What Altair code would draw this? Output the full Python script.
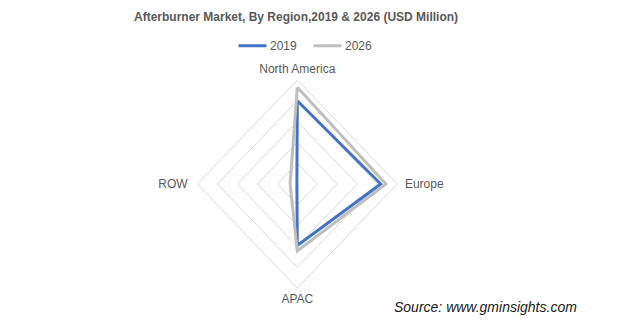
import altair as alt
import pandas as pd

# ---- data ----
regions = ["North America", "Europe", "APAC", "ROW"]
angles = [0, 90, 180, 270]
years = ["2019", "2026"]
values_2019 = [400, 417, 296, 2]
values_2026 = [465, 443, 322, 36]
grid_levels = [100, 200, 300, 400, 500]
title_text = "Afterburner Market, By Region,2019 & 2026 (USD Million)"
source_text = "Source: www.gminsights.com"

n = len(regions)
rows = []
for yr, vals in zip(years, [values_2019, values_2026]):
    for i in range(n + 1):
        j = i % n
        rows.append({"year": yr, "region": regions[j], "angle": angles[j],
                     "value": vals[j], "order": i})
series = pd.DataFrame(rows)

grid_rows = []
for lv in grid_levels:
    for i in range(n + 1):
        j = i % n
        grid_rows.append({"level": lv, "angle": angles[j], "order": i, "value": lv})
grid = pd.DataFrame(grid_rows)

labels = pd.DataFrame({"region": regions, "angle": angles})

# ---- scales ----
xs = alt.Scale(domain=[-1486.5, 1633.5], nice=False, zero=False)
ys = alt.Scale(domain=[-682.7, 596.2], nice=False, zero=False)

def polar(chart, rexpr="datum.value"):
    return chart.transform_calculate(
        px=f"({rexpr}) * sin(datum.angle * PI / 180)",
        py=f"({rexpr}) * cos(datum.angle * PI / 180)",
    )

X = alt.X("px:Q", scale=xs, axis=None)
Y = alt.Y("py:Q", scale=ys, axis=None)

grid_layer = polar(alt.Chart(grid)).mark_line(
    color="#D9D9D9", strokeWidth=1, strokeJoin="miter"
).encode(x=X, y=Y, detail="level:N", order="order:Q")

line_layer = polar(alt.Chart(series)).mark_line(
    strokeWidth=3, strokeJoin="miter"
).encode(
    x=X, y=Y,
    color=alt.Color(
        "year:N",
        scale=alt.Scale(domain=years, range=["#4472C4", "#BFBFBF"]),
        legend=alt.Legend(
            title=None, orient="none", legendX=237, legendY=-30,
            direction="horizontal", symbolType="stroke", symbolSize=784,
            symbolStrokeWidth=3, labelFontSize=12, labelColor="#595959",
            labelFont="Liberation Sans", labelOffset=2, columnPadding=10,
            padding=0,
        ),
    ),
    order="order:Q",
)

lab_style = dict(fontSize=12, font="Liberation Sans", color="#595959", baseline="middle")
lab_base = alt.Chart(labels)
lab_center = polar(lab_base.transform_filter("datum.angle == 0 || datum.angle == 180"), "555").mark_text(
    align="center", **lab_style).encode(x=X, y=Y, text="region:N")
lab_left = polar(lab_base.transform_filter("datum.angle == 90"), "538").mark_text(
    align="left", **lab_style).encode(x=X, y=Y, text="region:N")
lab_right = polar(lab_base.transform_filter("datum.angle == 270"), "548").mark_text(
    align="right", **lab_style).encode(x=X, y=Y, text="region:N")

source = alt.Chart(pd.DataFrame({"t": [source_text]})).mark_text(
    align="left", baseline="middle", fontStyle="italic", fontSize=14,
    font="Liberation Sans", color="#1a1a1a"
).encode(x=alt.value(394), y=alt.value(248), text="t:N")

chart = alt.layer(grid_layer, line_layer, lab_center, lab_left, lab_right, source).properties(
    width=624, height=266,
    background="white",
    title=alt.TitleParams(
        text=title_text, font="Liberation Sans", fontSize=12, fontWeight="bold",
        color="#595959", anchor="middle", dx=-16, offset=-3, baseline="alphabetic",
    ),
    autosize=alt.AutoSizeParams(type="none"),
    padding={"top": 60, "left": 0, "right": 0, "bottom": 0},
).configure_view(stroke=None)

chart.save("out.html", embed_options={"renderer": "svg", "actions": False})
